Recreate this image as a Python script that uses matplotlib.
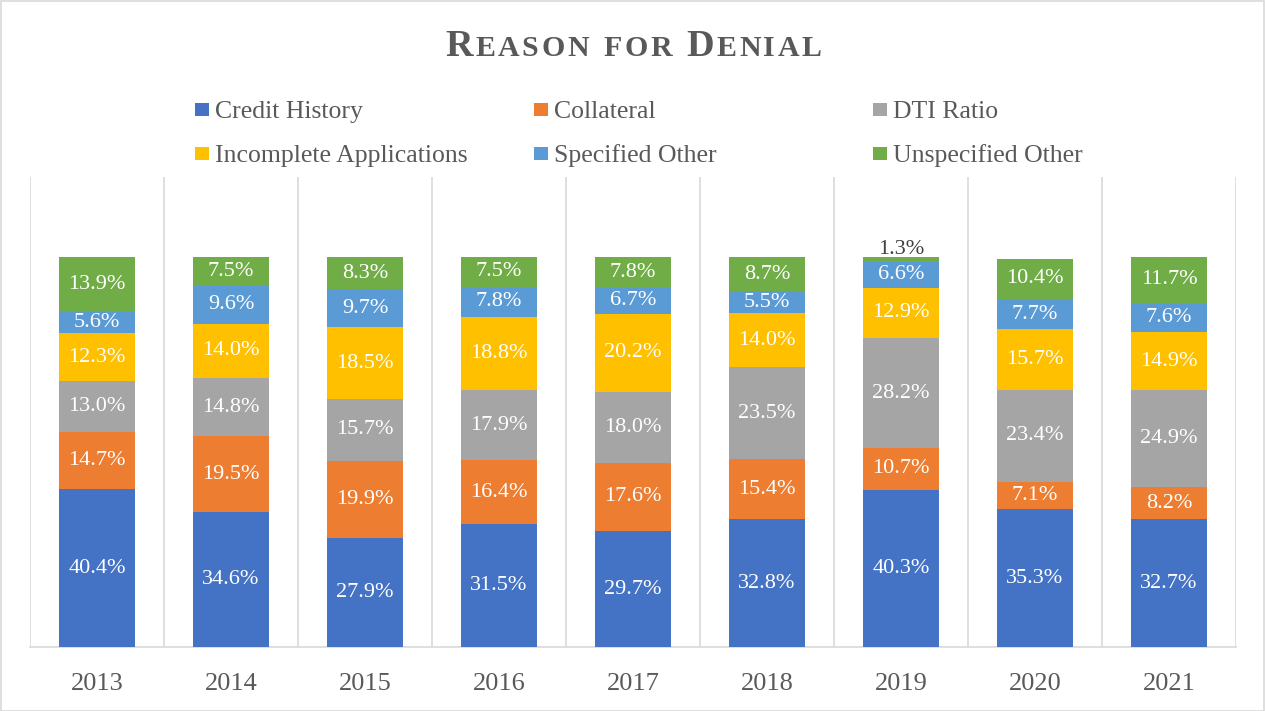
import matplotlib
matplotlib.use("Agg")
import matplotlib.pyplot as plt
from matplotlib.patches import Rectangle
import numpy as np

years = ["2013", "2014", "2015", "2016", "2017", "2018", "2019", "2020", "2021"]
series_names = ["Credit History", "Collateral", "DTI Ratio",
                "Incomplete Applications", "Specified Other", "Unspecified Other"]
credit_history = [40.4, 34.6, 27.9, 31.5, 29.7, 32.8, 40.3, 35.3, 32.7]
collateral = [14.7, 19.5, 19.9, 16.4, 17.6, 15.4, 10.7, 7.1, 8.2]
dti_ratio = [13.0, 14.8, 15.7, 17.9, 18.0, 23.5, 28.2, 23.4, 24.9]
incomplete_apps = [12.3, 14.0, 18.5, 18.8, 20.2, 14.0, 12.9, 15.7, 14.9]
specified_other = [5.6, 9.6, 9.7, 7.8, 6.7, 5.5, 6.6, 7.7, 7.6]
unspecified_other = [13.9, 7.5, 8.3, 7.5, 7.8, 8.7, 1.3, 10.4, 11.7]
colors = ["#4472C4", "#ED7D31", "#A5A5A5", "#FFC000", "#5B9BD5", "#70AD47"]

data = [credit_history, collateral, dti_ratio, incomplete_apps, specified_other, unspecified_other]

W, H = 1265, 711
fig = plt.figure(figsize=(W / 100, H / 100), dpi=100)
serif = ["Liberation Serif", "DejaVu Serif"]
txt_gray = "#595959"

# figure border
fig.patches.append(Rectangle((0.5 / W, 0.5 / H), 1 - 1.5 / W, 1 - 1.5 / H, transform=fig.transFigure,
                             fill=False, edgecolor="#d9d9d9", linewidth=1.2))

ax = fig.add_axes([30 / W, (H - 647) / H, (1236 - 30) / W, (647 - 177) / H])
x = np.arange(len(years))
bottom = np.zeros(len(years))
bw = 0.56
for name, vals, c in zip(series_names, data, colors):
    v = np.array(vals)
    ax.bar(x, v, bw, bottom=bottom, color=c, label=name, zorder=3)
    for xi, b, val in zip(x, bottom, v):
        if val < 3:
            ax.text(xi, b + val - 0.4, f"{val:.1f}%", ha="center", va="bottom",
                    color="#404040", fontsize=16, family=serif, zorder=4)
        else:
            ax.text(xi, b + val / 2, f"{val:.1f}%", ha="center", va="center",
                    color="white", fontsize=16, family=serif, zorder=4)
    bottom += v

ax.set_xlim(-0.5, len(years) - 0.5)
ax.set_ylim(0, 120.5)
ax.set_yticks([])
ax.set_xticks(x)
ax.set_xticklabels(years, family=serif, fontsize=19, color=txt_gray)
ax.tick_params(axis="x", length=0, pad=19)
for b in np.arange(-0.5, len(years), 1.0):
    ax.axvline(b, color="#d9d9d9", linewidth=1.2, zorder=1)
for s in ["top", "left", "right"]:
    ax.spines[s].set_visible(False)
ax.spines["bottom"].set_color("#d9d9d9")
ax.spines["bottom"].set_linewidth(1.2)

# legend (manual, Excel-like even column placement)
leg_x = [202, 541, 880]
leg_y = [109.5, 153.5]
for i, (name, c) in enumerate(zip(series_names, colors)):
    r, col = divmod(i, 3)
    px, py = leg_x[col], leg_y[r]
    fig.patches.append(Rectangle(((px - 7) / W, (H - py - 6.5) / H), 14 / W, 13 / H,
                                 transform=fig.transFigure, facecolor=c, edgecolor="none"))
    fig.text((px + 13) / W, (H - py) / H, name, ha="left", va="center_baseline",
             fontsize=18.5, family=serif, color=txt_gray)

# small-caps title with letter spacing
title_words = ["Reason", "for", "Denial"]
big, small, track = 27.5, 21.5, 2.6
chars = []
for wi, word in enumerate(title_words):
    for ci, ch in enumerate(word):
        fs = big if (ch.isupper() and ci == 0 and word != "for") else small
        chars.append((ch.upper(), fs))
    if wi < len(title_words) - 1:
        chars.append((" ", small))
fig.canvas.draw()
renderer = fig.canvas.get_renderer()
objs = []
total = 0
for s, fs in chars:
    t = fig.text(0, 0, s, fontsize=fs, family=serif, weight="bold", color=txt_gray,
                 ha="left", va="baseline")
    if s == " ":
        w = fs * 0.4 * 100 / 72
    else:
        w = t.get_window_extent(renderer).width + track
    objs.append((t, w))
    total += w
cur = (W - total) / 2 + 2
for t, w in objs:
    t.set_position((cur / W, (H - 56) / H))
    cur += w

fig.savefig("out.png", dpi=100)
